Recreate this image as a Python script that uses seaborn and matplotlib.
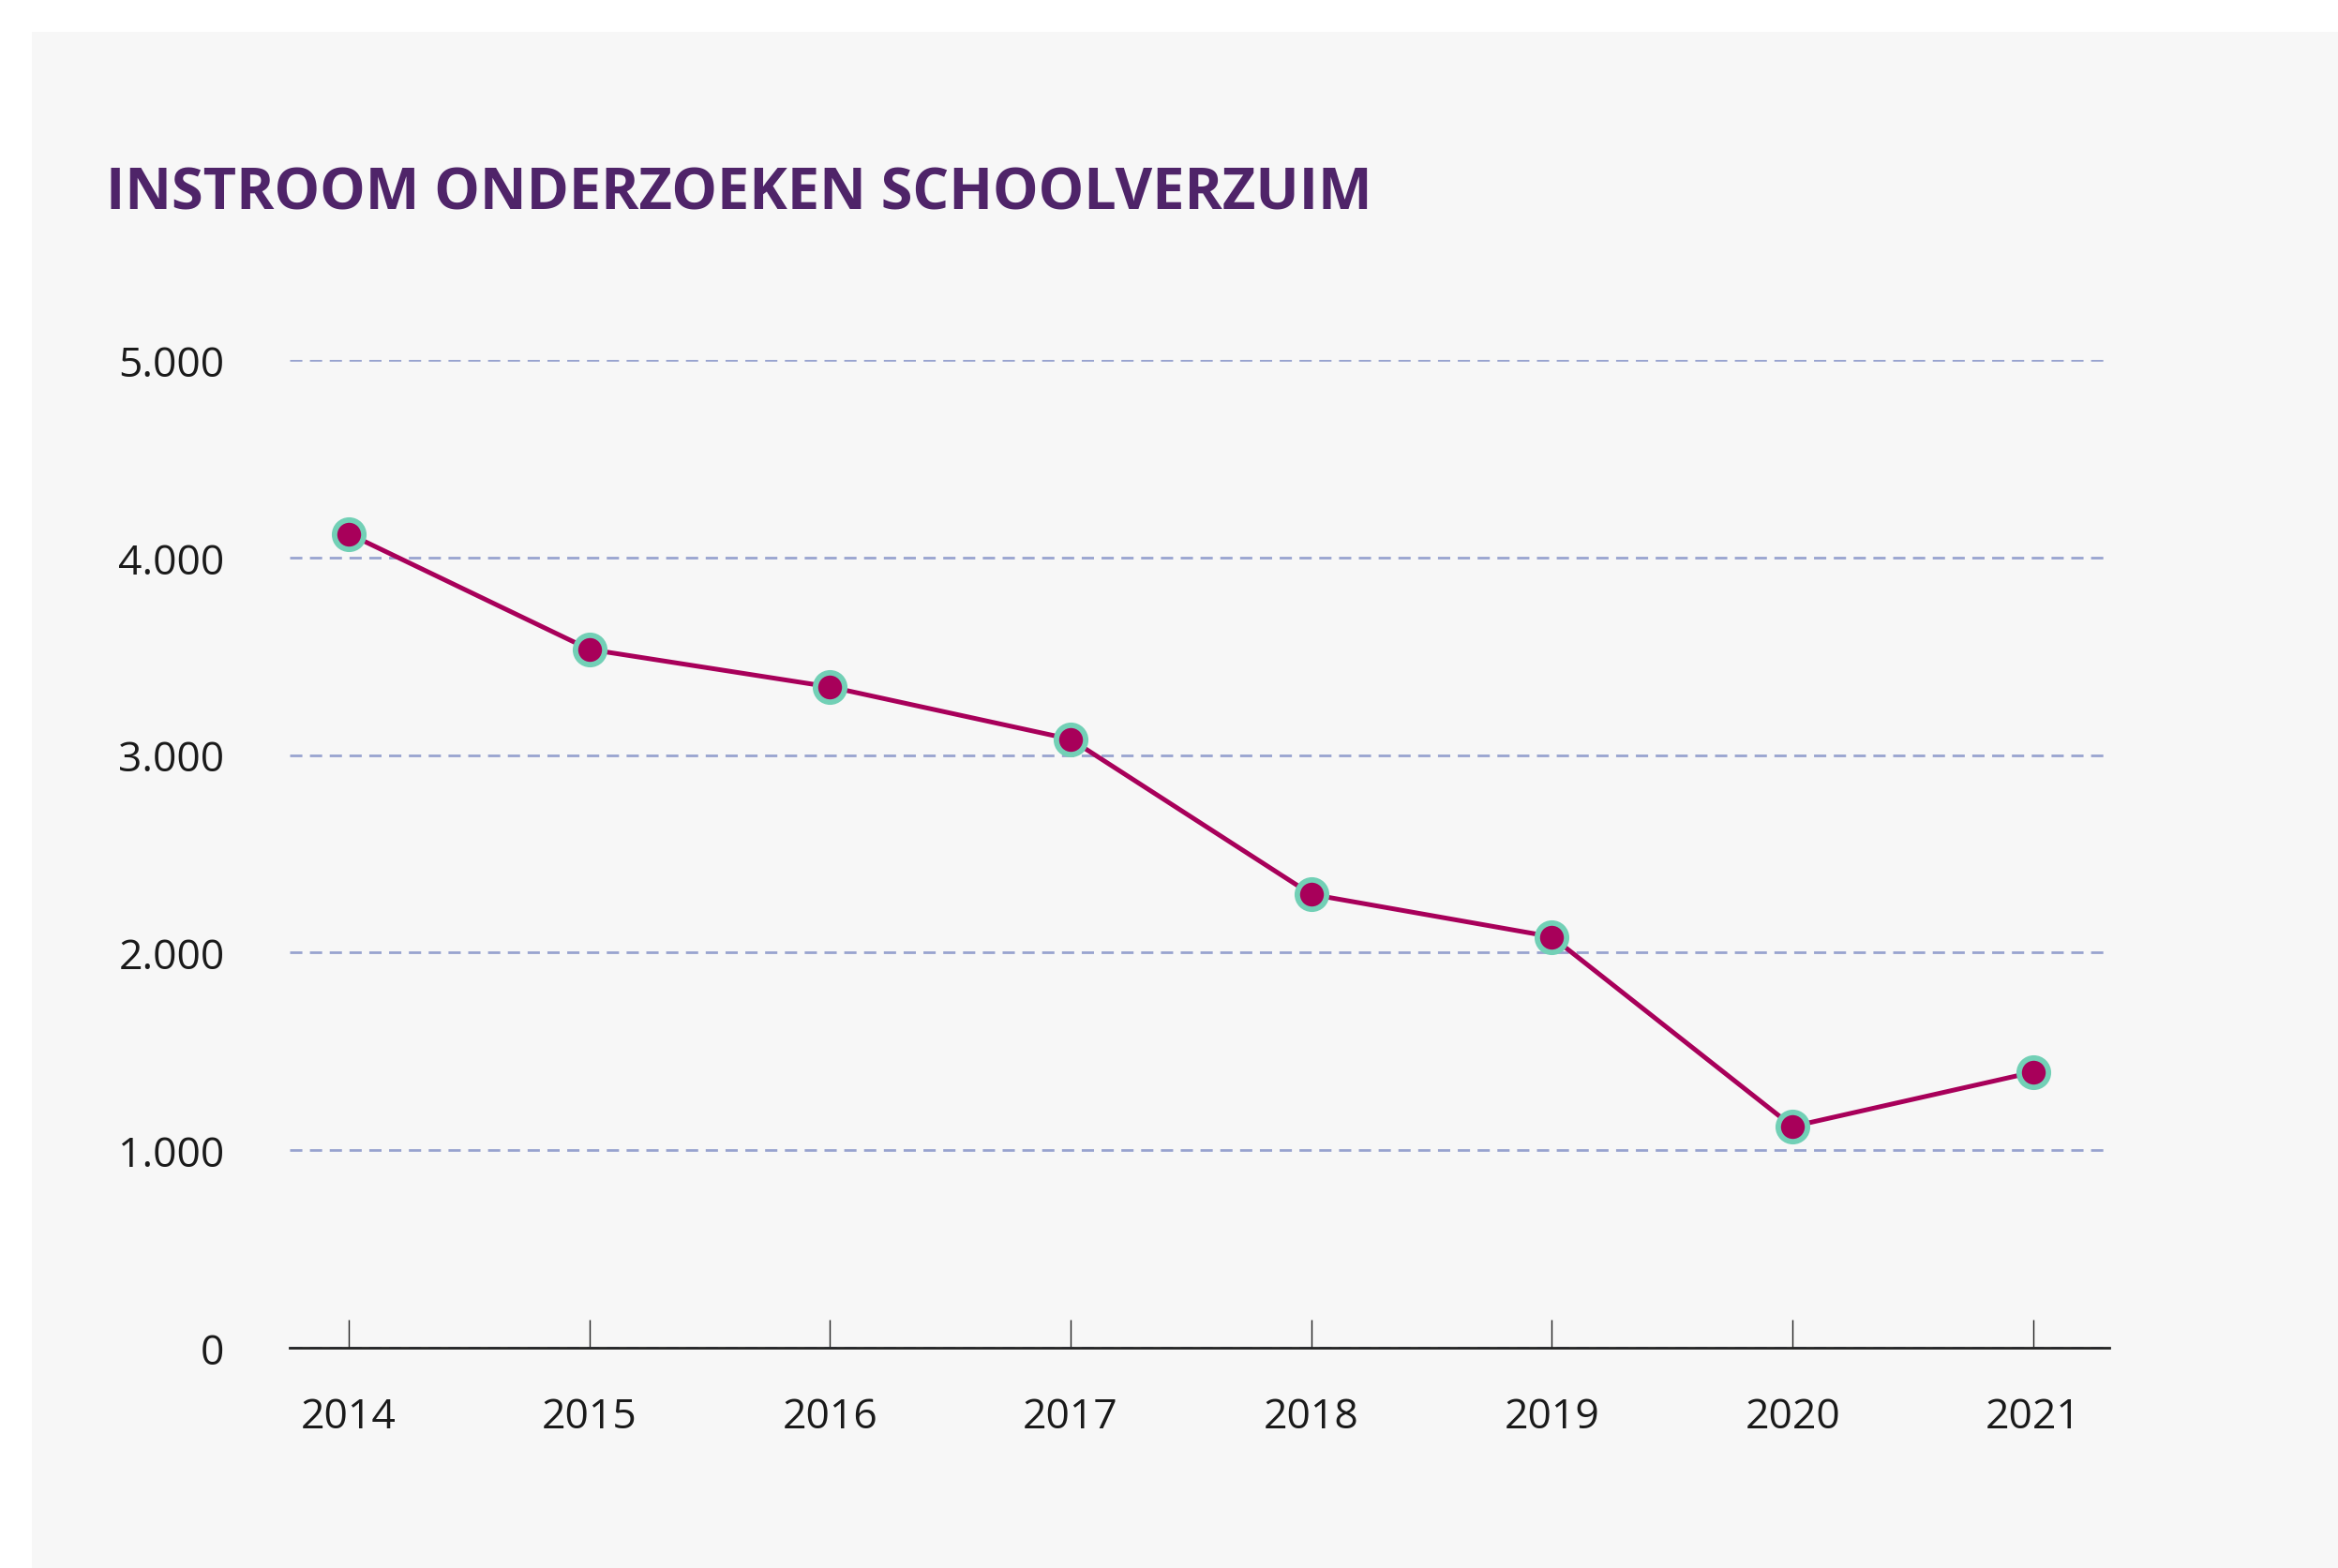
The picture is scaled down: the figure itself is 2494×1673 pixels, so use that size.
import numpy as np
import pandas as pd
import matplotlib
matplotlib.use("Agg")
import matplotlib.pyplot as plt
from matplotlib.patches import Rectangle
from matplotlib.ticker import FuncFormatter
import seaborn as sns

# data
years = [2014, 2015, 2016, 2017, 2018, 2019, 2020, 2021]
instroom = [4120, 3535, 3345, 3080, 2295, 2080, 1120, 1395]
y_ticks = [0, 1000, 2000, 3000, 4000, 5000]
title = "INSTROOM ONDERZOEKEN SCHOOLVERZUIM"

PURPLE = "#4f2469"
LINE = "#a8005a"
RING = "#72d0b6"
GRID = "#98a3cf"
PANEL = "#f7f7f7"

sns.set_theme(style="white")
plt.rcParams["font.family"] = ["Open Sans", "DejaVu Sans"]

W, H = 2494, 1674
fig = plt.figure(figsize=(W / 100, H / 100), dpi=100, facecolor="white")
fig.patches.append(Rectangle((34 / W, 0), 1 - 34 / W, 1 - 35 / H,
                             transform=fig.transFigure, facecolor=PANEL,
                             edgecolor="none", zorder=-10))

ax = fig.add_axes([309 / W, (H - 1439) / H, (2250 - 309) / W, (1439 - 385) / H])
ax.set_facecolor("none")

df = pd.DataFrame({"jaar": years, "instroom": instroom})
sns.lineplot(data=df, x="jaar", y="instroom", ax=ax, color=LINE, linewidth=3.6,
             marker="o", markersize=22.5, markerfacecolor=LINE,
             markeredgecolor=RING, markeredgewidth=4.2, zorder=3)

ax.set_xlim(2013.755, 2021.316)
ax.set_ylim(0, 5000)
ax.set_xticks(years)
ax.set_xticklabels([str(y) for y in years])
ax.set_yticks(y_ticks)
ax.yaxis.set_major_formatter(FuncFormatter(lambda v, p: f"{int(v):,}".replace(",", ".")))
ax.set_xlabel("")
ax.set_ylabel("")

ax.grid(axis="y", color=GRID, linewidth=2, linestyle=(0, (4.7, 2.9)))
ax.grid(axis="x", visible=False)

for s in ["top", "right", "left"]:
    ax.spines[s].set_visible(False)
ax.spines["bottom"].set_color("#222222")
ax.spines["bottom"].set_linewidth(2)
ax.spines["bottom"].set_zorder(4)

ax.tick_params(axis="x", direction="in", length=21.6, width=1, color="#222222",
               pad=37, labelsize=32, labelcolor="#1a1a1a", bottom=True)
ax.tick_params(axis="y", length=0, pad=50, labelsize=32, labelcolor="#1a1a1a")

fig.text(113 / W, 1 - 223 / H, title, ha="left", va="baseline",
         fontsize=44, fontweight="bold", color=PURPLE)

fig.savefig("out.png", dpi=100, facecolor="white")
